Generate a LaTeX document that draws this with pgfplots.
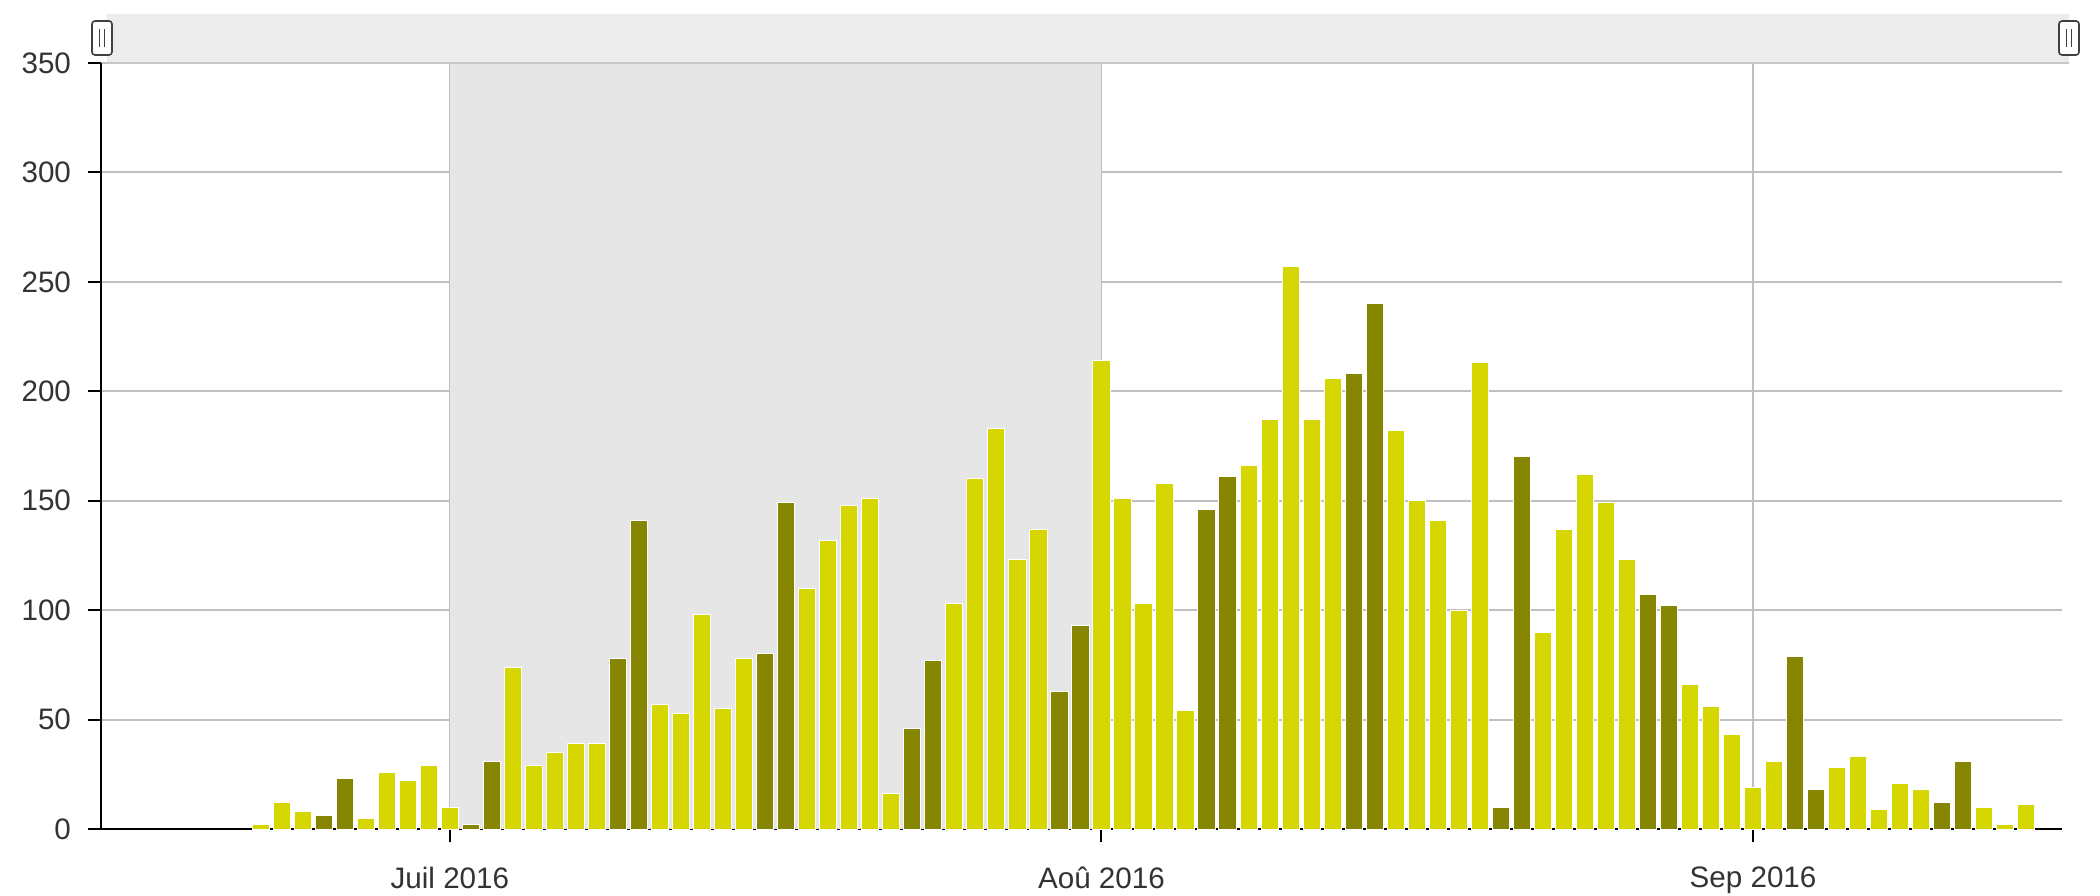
\documentclass[border=0pt]{standalone}
\usepackage{fontspec}
\setmainfont{Liberation Sans}
\usepackage{pgfplots}
\usepackage{pgfplotstable}
\pgfplotsset{compat=1.18}

\definecolor{wkday}{RGB}{214,214,0}
\definecolor{wkend}{RGB}{134,134,0}
\definecolor{band}{RGB}{230,230,230}
\definecolor{navbg}{RGB}{236,236,236}
\definecolor{gridc}{RGB}{192,192,192}

% axis lines above the bars, grid below them
\pgfplotsset{
    layers/barsunder/.define layer set={
        axis background,axis grid,main,axis ticks,axis lines,
        axis tick labels,axis descriptions,axis foreground
    }{},
}

% day 0 = 1 July 2016
\pgfplotstableread{
day n
-9 2
-8 12
-7 8
-4 5
-3 26
-2 22
-1 29
0 10
3 74
4 29
5 35
6 39
7 39
10 57
11 53
12 98
13 55
14 78
17 110
18 132
19 148
20 151
21 16
24 103
25 160
26 183
27 123
28 137
31 214
32 151
33 103
34 158
35 54
38 166
39 187
40 257
41 187
42 206
45 182
46 150
47 141
48 100
49 213
52 90
53 137
54 162
55 149
56 123
59 66
60 56
61 43
62 19
63 31
66 28
67 33
68 9
69 21
70 18
73 10
74 2
75 11
}\weekdays

\pgfplotstableread{
day n
-6 6
-5 23
1 2
2 31
8 78
9 141
15 80
16 149
22 46
23 77
29 63
30 93
36 146
37 161
43 208
44 240
50 10
51 170
57 107
58 102
64 79
65 18
71 12
72 31
}\weekends

\begin{document}
\begin{tikzpicture}
\begin{axis}[
    name=ax,
    set layers=barsunder,
    scale only axis,
    width=980.5pt, height=383pt,
    xmin=-16.6, xmax=76.7,
    ymin=0, ymax=350,
    axis lines=left,
    axis line style={-, black, line width=1pt},
    xtick={0,31,62},
    xticklabels={Juil 2016,Aoû 2016,Sep 2016},
    ytick={0,50,...,350},
    tick align=outside,
    major tick length=6.5pt,
    tick style={black, line width=1pt},
    xmajorgrids, ymajorgrids,
    grid style={gridc, line width=1pt},
    ticklabel style={font=\fontsize{14.8}{17}\selectfont, text=black!80},
    xticklabel style={yshift=-9pt},
    yticklabel style={xshift=-5pt},
    /pgf/number format/assume math mode=true,
    clip=false,
]

% shaded selection, July
\fill[band, on layer=axis background] (axis cs:0,0) rectangle (axis cs:31,350);

\addplot[ybar, bar width=8.6pt, bar shift=0pt, fill=wkday, draw=white, line width=0.5pt]
    table[x=day, y=n] {\weekdays};
\addplot[ybar, bar width=8.6pt, bar shift=0pt, fill=wkend, draw=white, line width=0.5pt]
    table[x=day, y=n] {\weekends};
\end{axis}

% navigator strip on top
\fill[navbg] ([xshift=3pt]ax.north west) rectangle ([xshift=3.5pt,yshift=24.5pt]ax.north east);
\draw[black!22, line width=1pt] ([xshift=3pt]ax.north west) -- ([xshift=3.5pt]ax.north east);
% left handle
\draw[black!75, fill=white, rounded corners=1.5pt, line width=0.8pt]
    ([xshift=-4.5pt,yshift=4pt]ax.north west) rectangle ([xshift=5.5pt,yshift=21pt]ax.north west);
\draw[black!75, line width=0.8pt]
    ([xshift=-0.8pt,yshift=8pt]ax.north west) -- ([xshift=-0.8pt,yshift=17pt]ax.north west)
    ([xshift=1.8pt,yshift=8pt]ax.north west) -- ([xshift=1.8pt,yshift=17pt]ax.north west);
% right handle
\draw[black!75, fill=white, rounded corners=1.5pt, line width=0.8pt]
    ([xshift=-1.5pt,yshift=4pt]ax.north east) rectangle ([xshift=8.5pt,yshift=21pt]ax.north east);
\draw[black!75, line width=0.8pt]
    ([xshift=2.2pt,yshift=8pt]ax.north east) -- ([xshift=2.2pt,yshift=17pt]ax.north east)
    ([xshift=4.8pt,yshift=8pt]ax.north east) -- ([xshift=4.8pt,yshift=17pt]ax.north east);

\pgfresetboundingbox
\path[use as bounding box] (-50.5pt,-33pt) rectangle (999.5pt,414.5pt);
\end{tikzpicture}
\end{document}
